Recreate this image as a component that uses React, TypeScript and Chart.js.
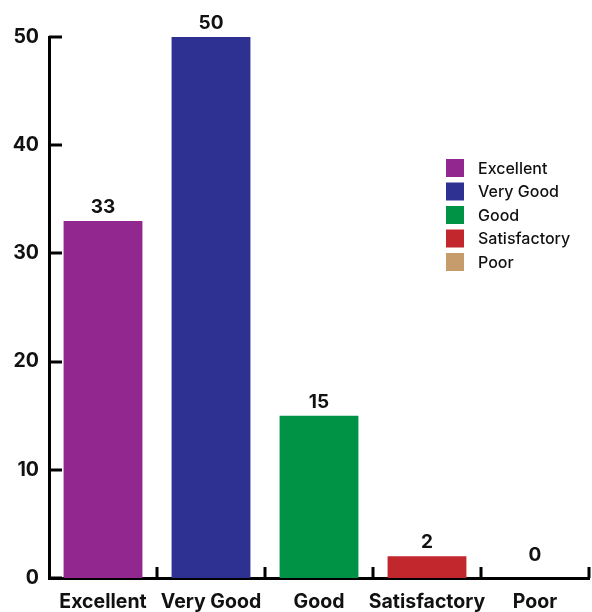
import React, { useEffect, useRef } from "react";
import { Chart, registerables } from "chart.js";

Chart.register(...registerables);

const categories = ["Excellent", "Very Good", "Good", "Satisfactory", "Poor"];
const values = [33, 50, 15, 2, 0];
const barColors = ["#92278F", "#2E3192", "#009245", "#C1272D", "#C69C6D"];
const yTicks = [0, 10, 20, 30, 40, 50];

const FONT = "Inter, 'Noto Sans', sans-serif";

const innerTicksPlugin = {
  id: "innerTicks",
  afterDraw(chart: any) {
    const ctx = chart.ctx;
    const area = chart.chartArea;
    const xs = chart.scales.x;
    const ys = chart.scales.y;
    ctx.save();
    ctx.strokeStyle = "#000";
    ctx.lineWidth = 3;
    ctx.lineCap = "butt";
    ys.ticks.forEach((_t: any, i: number) => {
      const y = Math.round(ys.getPixelForTick(i));
      ctx.beginPath();
      ctx.moveTo(area.left, y);
      ctx.lineTo(area.left + 13, y);
      ctx.stroke();
    });
    const n = categories.length;
    const step = (area.right - area.left) / n;
    for (let i = 0; i < n; i++) {
      const x = Math.round(xs.getPixelForValue(i) + step / 2);
      ctx.beginPath();
      ctx.moveTo(x, area.bottom);
      ctx.lineTo(x, area.bottom - 11);
      ctx.stroke();
    }
    ctx.restore();
  },
};

const legendPlugin = {
  id: "customLegend",
  afterDraw(chart: any) {
    const ctx = chart.ctx;
    ctx.save();
    const x0 = 446;
    const y0 = 159;
    const rowH = 23.5;
    ctx.font = `500 16px ${FONT}`;
    ctx.textBaseline = "middle";
    ctx.textAlign = "left";
    categories.forEach((c, i) => {
      const y = y0 + i * rowH;
      ctx.fillStyle = barColors[i];
      ctx.fillRect(x0, y, 18, 18);
      ctx.fillStyle = "#111";
      ctx.fillText(c, x0 + 32, y + 10);
    });
    ctx.restore();
  },
};

const dataLabelPlugin = {
  id: "dataLabels",
  afterDatasetsDraw(chart: any) {
    const ctx = chart.ctx;
    const meta = chart.getDatasetMeta(0);
    ctx.save();
    ctx.font = `bold 19px ${FONT}`;
    ctx.fillStyle = "#111";
    ctx.textAlign = "center";
    ctx.textBaseline = "alphabetic";
    meta.data.forEach((bar: any, i: number) => {
      const top = Math.min(bar.y, bar.base - 9);
      ctx.fillText(String(values[i]), bar.x, top - 8);
    });
    ctx.restore();
  },
};

export default function App() {
  const ref = useRef<HTMLCanvasElement>(null);
  useEffect(() => {
    if (!ref.current) return;
    const chart = new Chart(ref.current, {
      type: "bar",
      data: {
        labels: categories,
        datasets: [
          {
            data: values,
            backgroundColor: barColors,
            barPercentage: 0.73,
            categoryPercentage: 1,
          },
        ],
      },
      options: {
        animation: false,
        responsive: false,
        maintainAspectRatio: false,
        layout: { padding: { top: 37, right: 3, left: 0, bottom: 0 } },
        plugins: { legend: { display: false }, tooltip: { enabled: false } },
        scales: {
          x: {
            offset: true,
            grid: { display: false, drawTicks: false },
            border: { display: true, color: "#000", width: 3 },
            ticks: {
              color: "#111",
              font: { family: FONT, size: 19.5, weight: "bold" },
              padding: 12,
              maxRotation: 0,
              autoSkip: false,
            },
            afterFit(scale: any) {
              scale.height = 34;
            },
          },
          y: {
            min: 0,
            max: 50,
            grid: { display: false, drawTicks: false },
            border: { display: true, color: "#000", width: 3 },
            afterBuildTicks(scale: any) {
              scale.ticks = yTicks.map((v) => ({ value: v }));
            },
            ticks: {
              color: "#111",
              font: { family: FONT, size: 19.5, weight: "bold" },
              padding: 10,
            },
            afterFit(scale: any) {
              scale.width = 49;
            },
          },
        },
      },
      plugins: [innerTicksPlugin, legendPlugin, dataLabelPlugin],
    });
    return () => chart.destroy();
  }, []);
  return (
    <div style={{ position: "absolute", left: 0, top: 0, width: 592, height: 612 }}>
      <canvas ref={ref} width={592} height={612} style={{ width: 592, height: 612 }} />
    </div>
  );
}
